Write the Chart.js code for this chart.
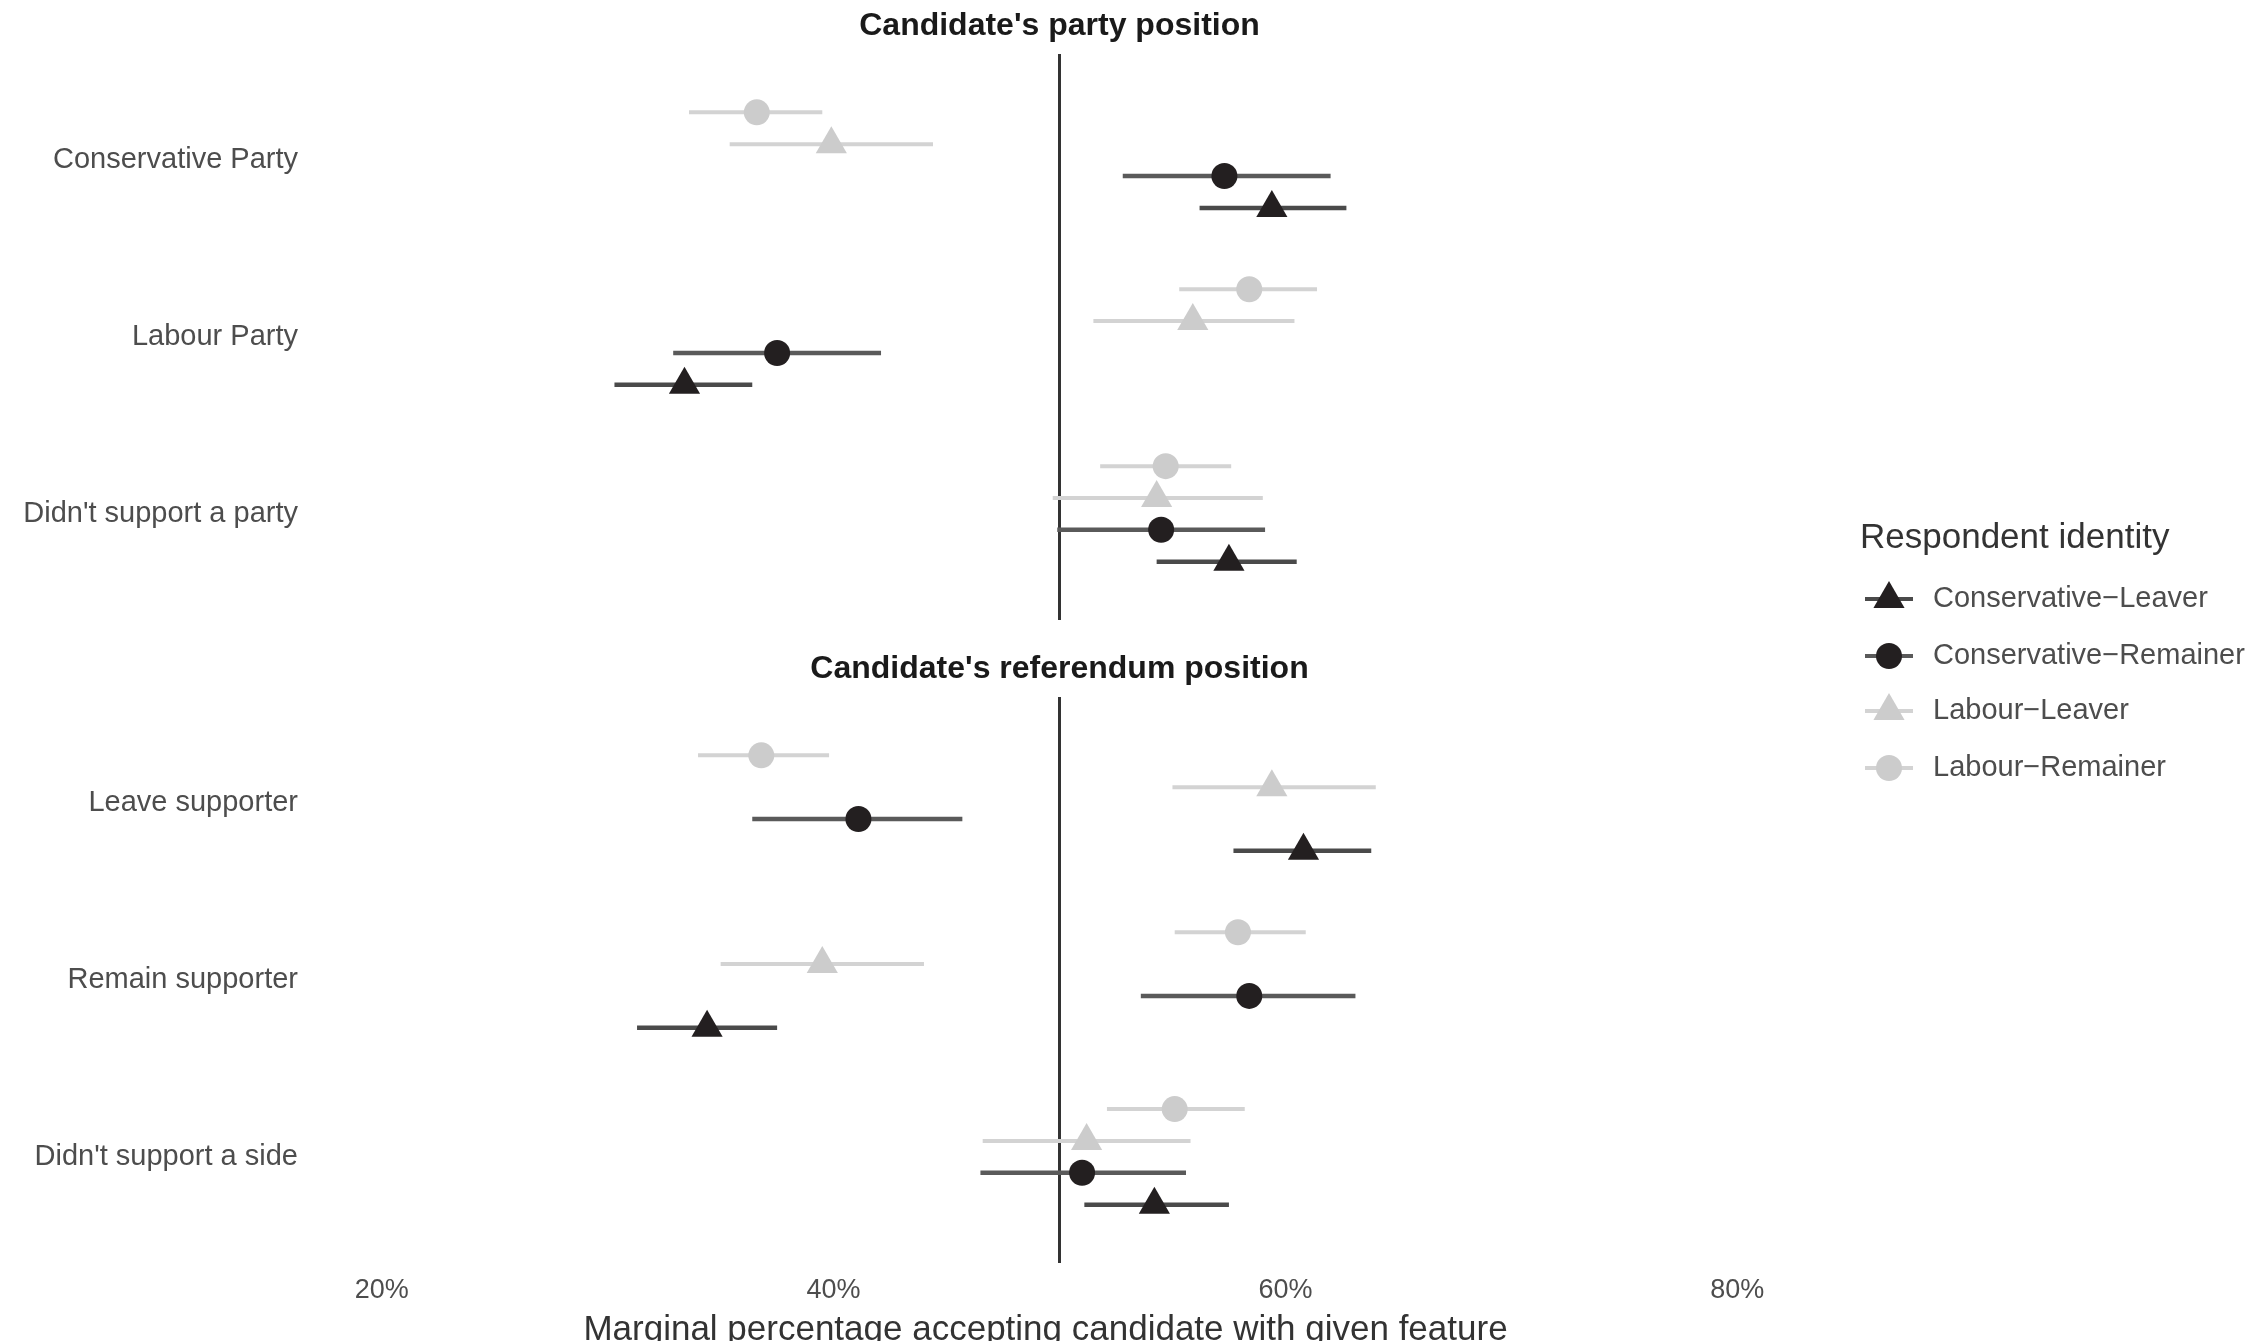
<!DOCTYPE html>
<html>
<head>
<meta charset="utf-8">
<script src="https://cdn.jsdelivr.net/npm/chart.js@4.4.1/dist/chart.umd.min.js"></script>
<style>
  html, body { margin: 0; padding: 0; background: #fff; }
  #wrap { width: 2264px; height: 1341px; position: relative; }
</style>
</head>
<body>
<div id="wrap"><canvas id="grafico"></canvas></div>
<script>
// Categories, top to bottom
const categories = ["Conservative Party", "Labour Party", "Didn't support a party",
                    "Leave supporter", "Remain supporter", "Didn't support a side"];
const facetOf = [0, 0, 0, 1, 1, 1];
const facetTitles = ["Candidate's party position", "Candidate's referendum position"];

const seriesNames = ["Conservative\u2212Leaver", "Conservative\u2212Remainer", "Labour\u2212Leaver", "Labour\u2212Remainer"];

// Estimates and 95% intervals (%)
const conLeaveEst = [59.4, 33.4, 57.5, 60.8, 34.4, 54.2];
const conLeaveLo  = [56.2, 30.3, 54.3, 57.7, 31.3, 51.1];
const conLeaveHi  = [62.7, 36.4, 60.5, 63.8, 37.5, 57.5];

const conRemEst = [57.3, 37.5, 54.5, 41.1, 58.4, 51.0];
const conRemLo  = [52.8, 32.9, 49.9, 36.4, 53.6, 46.5];
const conRemHi  = [62.0, 42.1, 59.1, 45.7, 63.1, 55.6];

const labLeaveEst = [39.9, 55.9, 54.3, 59.4, 39.5, 51.2];
const labLeaveLo  = [35.4, 51.5, 49.7, 55.0, 35.0, 46.6];
const labLeaveHi  = [44.4, 60.4, 59.0, 64.0, 44.0, 55.8];

const labRemEst = [36.6, 58.4, 54.7, 36.8, 57.9, 55.1];
const labRemLo  = [33.6, 55.3, 51.8, 34.0, 55.1, 52.1];
const labRemHi  = [39.5, 61.4, 57.6, 39.8, 60.9, 58.2];

const xTicks = [20, 40, 60, 80];
const refValue = 50;

// vertical layout in category units: each facet 0.4..3.6, second one shifted down
const facetShift = 3.635;
const facetMin = 0.4, facetMax = 3.6;
const catPos = categories.map((c, i) => (i % 3) + 1 + facetOf[i] * facetShift);

const series = [
  { name: seriesNames[0], est: conLeaveEst, lo: conLeaveLo, hi: conLeaveHi, shape: 'triangle', color: '#231f20', bar: '#4a4a4a', dodge: 0.27 },
  { name: seriesNames[1], est: conRemEst,   lo: conRemLo,   hi: conRemHi,   shape: 'circle',   color: '#231f20', bar: '#5a5a5a', dodge: 0.09 },
  { name: seriesNames[2], est: labLeaveEst, lo: labLeaveLo, hi: labLeaveHi, shape: 'triangle', color: '#cccccc', bar: '#d3d3d3', dodge: -0.09 },
  { name: seriesNames[3], est: labRemEst,   lo: labRemLo,   hi: labRemHi,   shape: 'circle',   color: '#cccccc', bar: '#d3d3d3', dodge: -0.27 }
];

const FONT = "'Liberation Sans', Arial, Helvetica, sans-serif";

const datasets = [];

// reference line at 50%, one segment per facet
datasets.push({
  label: 'ref',
  data: [
    { x: refValue, y: facetMin }, { x: refValue, y: facetMax }, { x: null, y: null },
    { x: refValue, y: facetMin + facetShift }, { x: refValue, y: facetMax + facetShift }
  ],
  showLine: true, borderColor: '#333333', borderWidth: 3, pointRadius: 0, spanGaps: false, order: 10
});

// error bars
series.forEach(s => {
  const pts = [];
  s.est.forEach((v, i) => {
    const y = catPos[i] + s.dodge;
    pts.push({ x: s.lo[i], y: y }, { x: s.hi[i], y: y }, { x: null, y: null });
  });
  datasets.push({
    label: s.name + ' CI',
    data: pts,
    showLine: true, borderColor: s.bar, borderWidth: s.color === '#231f20' ? 4.5 : 4,
    pointRadius: 0, spanGaps: false, order: 5
  });
});

// point estimates
series.forEach(s => {
  datasets.push({
    label: s.name,
    data: s.est.map((v, i) => ({ x: v, y: catPos[i] + s.dodge })),
    pointStyle: s.shape,
    pointRadius: s.shape === 'triangle' ? 18 : 13,
    backgroundColor: s.color,
    borderColor: s.color,
    borderWidth: 0,
    order: 1
  });
});

const facetTitlePlugin = {
  id: 'facetTitles',
  afterDraw(chart) {
    const c = chart.ctx;
    const area = chart.chartArea;
    const ys = chart.scales.y;
    c.save();
    c.fillStyle = '#1a1a1a';
    c.font = 'bold 32px ' + FONT;
    c.textAlign = 'center';
    c.textBaseline = 'middle';
    facetTitles.forEach((t, f) => {
      const top = ys.getPixelForValue(facetMin + f * facetShift);
      c.fillText(t, (area.left + area.right) / 2, top - 28);
    });
    // x axis title
    c.fillStyle = '#333333';
    c.font = '35px ' + FONT;
    c.fillText('Marginal percentage accepting candidate with given feature', (area.left + area.right) / 2 - 14, 1330);
    c.restore();
  }
};

const legendPlugin = {
  id: 'customLegend',
  afterDraw(chart) {
    const c = chart.ctx;
    const x0 = 1860;
    c.save();
    c.textBaseline = 'middle';
    c.textAlign = 'left';
    c.fillStyle = '#333333';
    c.font = '35px ' + FONT;
    c.fillText('Respondent identity', x0, 538);
    const rowY = [599, 656, 711, 768];
    series.forEach((s, k) => {
      const y = rowY[k];
      c.strokeStyle = s.bar;
      c.lineWidth = 4;
      c.beginPath();
      c.moveTo(1865, y);
      c.lineTo(1913, y);
      c.stroke();
      c.fillStyle = s.color;
      c.strokeStyle = s.color;
      Chart.helpers.drawPoint(c, {
        pointStyle: s.shape,
        radius: s.shape === 'triangle' ? 18 : 13,
        borderWidth: 0,
        rotation: 0
      }, 1889, y);
      c.fillStyle = '#4d4d4d';
      c.font = '29px ' + FONT;
      c.fillText(s.name, 1933, y);
    });
    c.restore();
  }
};

new Chart(document.getElementById('grafico').getContext('2d'), {
  type: 'scatter',
  data: { datasets: datasets },
  options: {
    responsive: true,
    maintainAspectRatio: false,
    animation: false,
    events: [],
    layout: { padding: { top: 54, right: 459, bottom: 0, left: 0 } },
    plugins: { legend: { display: false }, tooltip: { enabled: false } },
    scales: {
      x: {
        type: 'linear',
        min: 17,
        max: 83,
        grid: { display: false, drawTicks: false },
        border: { display: false },
        afterBuildTicks: scale => { scale.ticks = xTicks.map(v => ({ value: v })); },
        afterFit: scale => { scale.height = 78; },
        ticks: {
          padding: 11,
          color: '#4d4d4d',
          font: { family: FONT, size: 27 },
          callback: v => v + '%'
        }
      },
      y: {
        type: 'linear',
        reverse: true,
        min: facetMin,
        max: facetMax + facetShift,
        grid: { display: false, drawTicks: false },
        border: { display: false },
        afterBuildTicks: scale => { scale.ticks = catPos.map(v => ({ value: v })); },
        afterFit: scale => { scale.width = 314; },
        ticks: {
          padding: 16,
          color: '#4d4d4d',
          font: { family: FONT, size: 29 },
          callback: v => {
            const i = catPos.findIndex(p => Math.abs(p - v) < 1e-6);
            return i >= 0 ? categories[i] : '';
          }
        }
      }
    }
  },
  plugins: [facetTitlePlugin, legendPlugin]
});
</script>
</body>
</html>
